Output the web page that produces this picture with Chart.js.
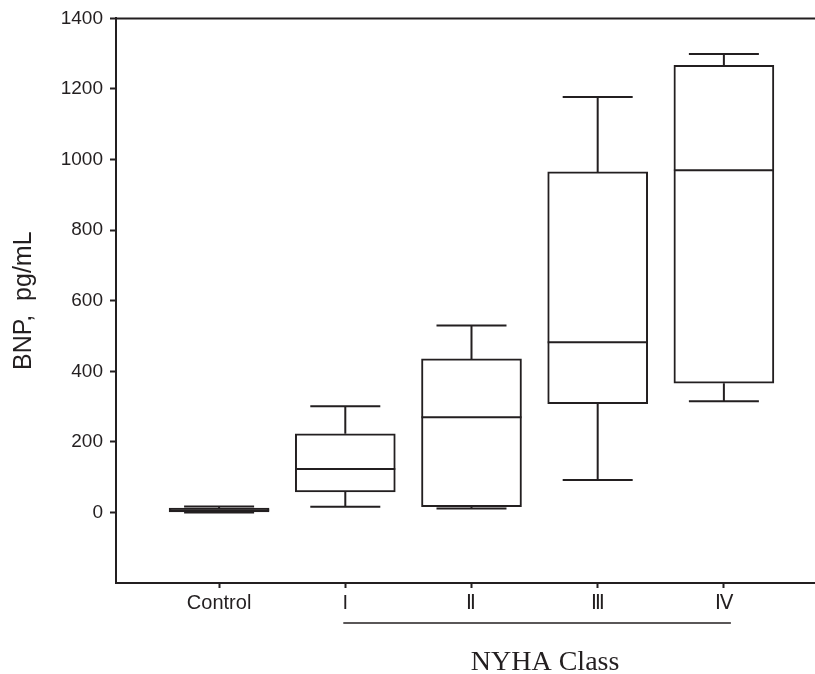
<!DOCTYPE html>
<html>
<head>
<meta charset="utf-8">
<script src="https://cdn.jsdelivr.net/npm/chart.js@4.4.1/dist/chart.umd.min.js"></script>
<style>
  body { margin: 0; background: #fff; }
  #wrap { width: 815px; height: 674px; }
</style>
</head>
<body>
<div id="wrap"><canvas id="grafico"></canvas></div>
<script>
  // values (BNP, pg/mL)
  const categories = ['Control', 'I', 'Ⅱ', 'Ⅲ', 'Ⅳ'];
  const whiskerLow = [0, 16, 11, 92, 315];
  const q1 = [0, 58, 16, 308, 366];
  const median = [6, 123, 270, 482, 970];
  const q3 = [12, 223, 435, 965, 1267];
  const whiskerHigh = [17, 301, 530, 1177, 1299];
  const yTicks = [0, 200, 400, 600, 800, 1000, 1200, 1400];

  const ink = '#231f20';

  // whiskers, medians, top frame line and the NYHA bracket
  const boxExtras = {
    id: 'boxExtras',
    afterDatasetsDraw(chart) {
      const ctx = chart.ctx;
      const x = chart.scales.x;
      const y = chart.scales.y;
      const meta = chart.getDatasetMeta(0);
      ctx.save();
      ctx.strokeStyle = ink;
      ctx.lineWidth = 2;
      categories.forEach((c, i) => {
        const cx = x.getPixelForValue(i);
        const half = meta.data[i].width / 2;
        const cap = half * 0.7;
        const yq1 = y.getPixelForValue(q1[i]);
        const yq3 = y.getPixelForValue(q3[i]);
        const ylo = y.getPixelForValue(whiskerLow[i]);
        const yhi = y.getPixelForValue(whiskerHigh[i]);
        const ymed = y.getPixelForValue(median[i]);
        ctx.beginPath();
        ctx.moveTo(cx, yq3); ctx.lineTo(cx, yhi);
        ctx.moveTo(cx - cap, yhi); ctx.lineTo(cx + cap, yhi);
        ctx.moveTo(cx, yq1); ctx.lineTo(cx, ylo);
        ctx.moveTo(cx - cap, ylo); ctx.lineTo(cx + cap, ylo);
        ctx.moveTo(cx - half, ymed); ctx.lineTo(cx + half, ymed);
        ctx.stroke();
      });
      // top line of the frame
      const a = chart.chartArea;
      ctx.beginPath();
      ctx.moveTo(a.left, a.top); ctx.lineTo(a.right, a.top);
      ctx.stroke();
      ctx.restore();
    },
    afterDraw(chart) {
      const ctx = chart.ctx;
      const x = chart.scales.x;
      const x1 = x.getPixelForValue(1) - 2;
      const x4 = x.getPixelForValue(4) + 7;
      ctx.save();
      ctx.strokeStyle = ink;
      ctx.lineWidth = 1.5;
      ctx.beginPath();
      ctx.moveTo(x1, 623); ctx.lineTo(x4, 623);
      ctx.stroke();
      ctx.fillStyle = ink;
      ctx.font = '28px "Liberation Serif", "Times New Roman", serif';
      ctx.textAlign = 'center';
      ctx.textBaseline = 'alphabetic';
      ctx.fillText('NYHA Class', (x1 + x4) / 2 + 8, 670);
      ctx.restore();
    }
  };

  new Chart(document.getElementById('grafico'), {
    type: 'bar',
    data: {
      datasets: [{
        data: categories.map((c, i) => ({ x: i, y: [q1[i], q3[i]] })),
        backgroundColor: '#ffffff',
        borderColor: ink,
        borderWidth: 2,
        borderSkipped: false,
        barThickness: 100
      }]
    },
    options: {
      responsive: true,
      maintainAspectRatio: false,
      animation: false,
      layout: { padding: { top: 16, right: 0, bottom: 0, left: 0 } },
      plugins: { legend: { display: false }, tooltip: { enabled: false } },
      scales: {
        x: {
          type: 'linear',
          offset: false,
          min: -0.817,
          max: 4.722,
          afterBuildTicks(scale) {
            scale.ticks = categories.map((c, i) => ({ value: i }));
          },
          afterFit(scale) { scale.height = 91; },
          ticks: {
            autoSkip: false,
            maxRotation: 0,
            padding: 3,
            color: ink,
            font: { family: '"Liberation Sans", Arial, sans-serif', size: 20 },
            callback: (v) => categories[v] ?? ''
          },
          grid: {
            offset: false,
            drawOnChartArea: false,
            drawTicks: true,
            tickLength: 5,
            tickColor: ink,
            tickWidth: 2
          },
          border: { display: true, color: ink, width: 2 }
        },
        y: {
          min: -200,
          max: 1400,
          afterBuildTicks(scale) {
            scale.ticks = yTicks.map(v => ({ value: v }));
          },
          afterFit(scale) { scale.width = 116; },
          ticks: {
            padding: 7,
            color: ink,
            font: { family: '"Liberation Sans", Arial, sans-serif', size: 19 },
            callback: (v) => String(v)
          },
          grid: {
            drawOnChartArea: false,
            drawTicks: true,
            tickLength: 6,
            tickColor: ink,
            tickWidth: 2
          },
          border: { display: true, color: ink, width: 2 },
          title: {
            display: true,
            text: 'BNP,  pg/mL',
            color: ink,
            font: { family: '"Liberation Sans", Arial, sans-serif', size: 25 },
            padding: { top: 9, bottom: 0 }
          }
        }
      }
    },
    plugins: [boxExtras]
  });
</script>
</body>
</html>
